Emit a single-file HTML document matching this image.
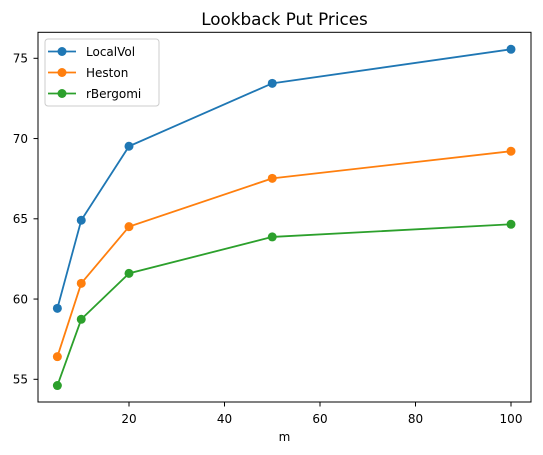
<!DOCTYPE html>
<html><head><meta charset="utf-8"><style>
html,body{margin:0;padding:0;background:#fff;}
svg{display:block;font-family:"DejaVu Sans","Liberation Sans",sans-serif;}
</style></head><body>
<svg id="chart" width="543" height="455" viewBox="0 0 543 455">
<text x="284.5" y="25" font-size="16.8" text-anchor="middle" fill="#000">Lookback Put Prices</text>
<g id="plot"></g>
</svg>
<script>
const mValues = [5, 10, 20, 50, 100];
const localVol = [59.42, 64.91, 69.52, 73.44, 75.56];
const heston = [56.41, 60.98, 64.51, 67.52, 69.21];
const rBergomi = [54.61, 58.74, 61.60, 63.87, 64.66];
const seriesNames = ["LocalVol", "Heston", "rBergomi"];
const xTicks = [20, 40, 60, 80, 100];
const yTicks = [55, 60, 65, 70, 75];

const NS = "http://www.w3.org/2000/svg";
const L = 38, R = 531, T = 32.3, B = 402;
function xs(m){ return 129 + (m - 20) * (382 / 80); }
function ys(v){ return 379.3 - (v - 55) * (321 / 20); }
const g = document.getElementById('plot');
function mk(tag, attrs){ const e = document.createElementNS(NS, tag); for (const k in attrs) e.setAttribute(k, attrs[k]); g.appendChild(e); return e; }

xTicks.forEach(t => {
  const x = xs(t);
  const tk = mk('line', {x1:x, x2:x, y1:B, y2:B+4.5, stroke:'#000', 'stroke-width':1});
  
  
  const lb = mk('text', {x:x, y:B+21, 'font-size':12, 'text-anchor':'middle', fill:'#000'});
  lb.textContent = t;
  
  
});
yTicks.forEach(t => {
  const y = ys(t);
  const tk = mk('line', {x1:L-4.5, x2:L, y1:y, y2:y, stroke:'#000', 'stroke-width':1});
  
  
  const lb = mk('text', {x:L-10, y:y+4.3, 'font-size':12, 'text-anchor':'end', fill:'#000'});
  lb.textContent = t;
  
  
});
const xl = mk('text', {x:(L+R)/2, y:441, 'font-size':12, 'text-anchor':'middle', fill:'#000'});
xl.textContent = 'm';



const colors = ['#1f77b4', '#ff7f0e', '#2ca02c'];
[localVol, heston, rBergomi].forEach((s, i) => {
  const pts = s.map((v, j) => xs(mValues[j]).toFixed(2) + ',' + ys(v).toFixed(2)).join(' ');
  const pl = mk('polyline', {points:pts, fill:'none', stroke:colors[i], 'stroke-width':1.8});
  
  
  s.forEach((v, j) => {
    const c = mk('circle', {cx:xs(mValues[j]), cy:ys(v), r:4.5, fill:colors[i]});
    
    
  });
});

const frame = mk('rect', {x:L, y:T, width:R-L, height:B-T, fill:'none', stroke:'#000', 'stroke-width':1});



const lg = mk('rect', {x:45, y:39, width:114, height:67, rx:3, fill:'#fff', 'fill-opacity':0.8, stroke:'#ccc', 'stroke-width':1});


seriesNames.forEach((n, i) => {
  const y = 51.5 + i * 21;
  const ln = mk('line', {x1:48, x2:76, y1:y, y2:y, stroke:colors[i], 'stroke-width':1.8});
  
  
  const c = mk('circle', {cx:62, cy:y, r:4.5, fill:colors[i]});
  
  
  const t = mk('text', {x:86, y:y+4.3, 'font-size':12, fill:'#000'});
  t.textContent = n;
  
  
});
</script>
</body></html>
